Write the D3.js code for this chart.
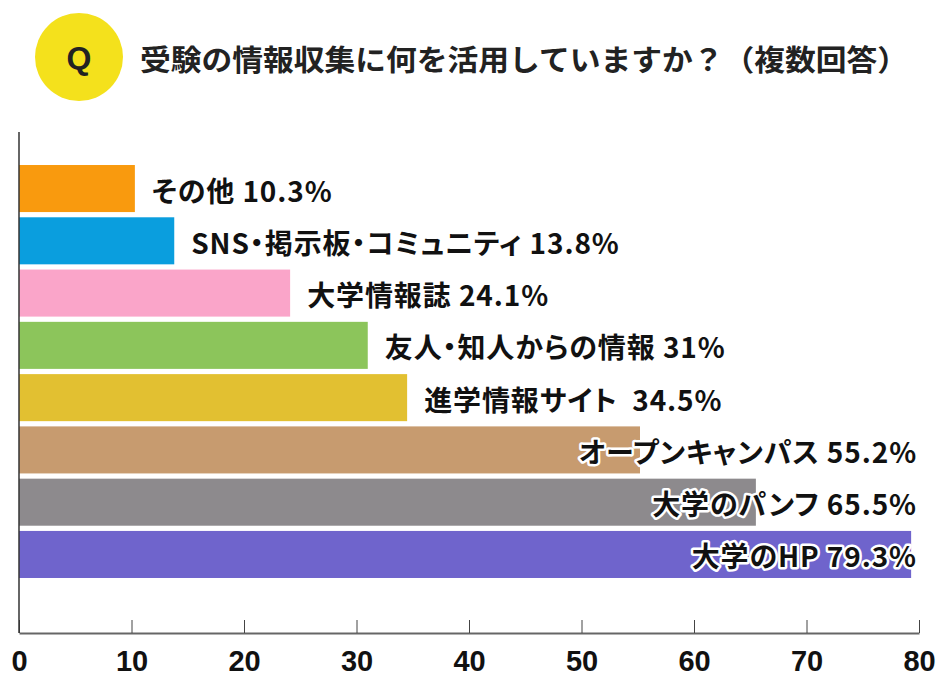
<!DOCTYPE html>
<html><head><meta charset="utf-8">
<script src="https://cdn.jsdelivr.net/npm/d3@7"></script>
<style>
body{margin:0;background:#fff;}
svg{display:block;}
.lab{white-space:pre;font-feature-settings:"palt";letter-spacing:0.9px;}
</style></head>
<body>
<svg id="chart" width="950" height="700"></svg>
<script>
const titleText = "受験の情報収集に何を活用していますか？（複数回答）";
const categories = ["その他","SNS・掲示板・コミュニティ","大学情報誌","友人・知人からの情報","進学情報サイト ","オープンキャンパス","大学のパンフ","大学のHP"];
const values = [10.3, 13.8, 24.1, 31, 34.5, 55.2, 65.5, 79.3];
const valueLabels = ["10.3%","13.8%","24.1%","31%","34.5%","55.2%","65.5%","79.3%"];
const colors = ["#F99A0E","#0A9EDE","#FAA5C9","#8CC55B","#E2C031","#C79B6F","#8D8A8D","#6F64CC"];
const tickValues = [0,10,20,30,40,50,60,70,80];

const svg = d3.select("#chart");
const jp = "'Noto Sans CJK JP','Noto Sans',sans-serif";

// title
svg.append("circle").attr("cx",79).attr("cy",57).attr("r",44).attr("fill","#F4E11C");
svg.append("text").attr("x",79).attr("y",58).attr("text-anchor","middle").attr("dominant-baseline","central")
  .attr("font-family","'Liberation Sans',Arial,sans-serif").attr("font-weight","bold").attr("font-size",32)
  .attr("fill","#222").text("Q");
svg.append("text").attr("x",140).attr("y",58).attr("dominant-baseline","central")
  .attr("font-family",jp).attr("font-weight","bold").attr("font-size",29)
  .attr("textLength",768).attr("lengthAdjust","spacingAndGlyphs")
  .attr("fill","#222").text(titleText);

const x = d3.scaleLinear().domain([0,80]).range([19,919]);
const y = d3.scaleBand().domain(categories).range([162.4,580.6]).paddingInner(0.1).paddingOuter(0.05);

const data = categories.map((c,i)=>({c, v:values[i], lab:valueLabels[i], col:colors[i]}));

svg.append("g").selectAll("rect").data(data).join("rect")
  .attr("x",x(0)).attr("y",d=>y(d.c)).attr("width",d=>x(d.v)-x(0)).attr("height",y.bandwidth())
  .attr("fill",d=>d.col);

// labels
svg.append("g").selectAll("text").data(data).join("text")
  .attr("class","lab")
  .attr("x",d=> d.v>50 ? x(80)-2 : x(d.v)+17)
  .attr("text-anchor",d=> d.v>50 ? "end" : "start")
  .attr("y",d=>y(d.c)+y.bandwidth()/2+1)
  .attr("dominant-baseline","central")
  .attr("font-family",jp).attr("font-weight","bold").attr("font-size",28)
  .attr("fill","#111").attr("stroke","#fff").attr("stroke-width",5).attr("stroke-linejoin","round")
  .attr("paint-order","stroke")
  .text(d=>d.c+" "+d.lab);

// axes
const axisG = svg.append("g").attr("transform","translate(0,633)")
  .call(d3.axisBottom(x).tickValues(tickValues).tickSize(-13).tickSizeOuter(0).tickPadding(16));
axisG.select(".domain").attr("stroke","#666").attr("stroke-width",2);
axisG.selectAll(".tick line").attr("stroke","#444").attr("stroke-width",1);
axisG.selectAll(".tick text").attr("font-family","'Liberation Sans Narrow','Liberation Sans',sans-serif")
  .attr("font-size",29).attr("fill","#111").attr("dy","0.75em").attr("font-weight","bold");

svg.append("line").attr("x1",19).attr("x2",19).attr("y1",132).attr("y2",633)
  .attr("stroke","#333").attr("stroke-width",1.5);
</script>
</body></html>
